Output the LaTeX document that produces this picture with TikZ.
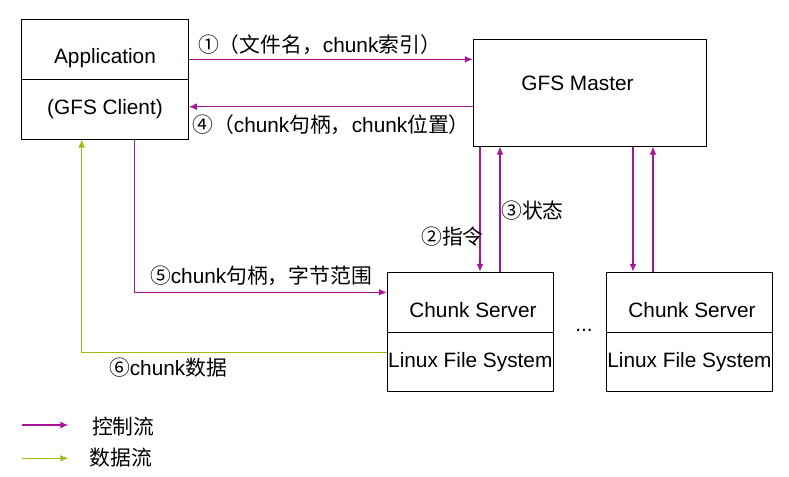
\documentclass[tikz,border=0pt]{standalone}
\usepackage{fontspec}
\setmainfont{Liberation Sans}
\newfontfamily\cjk{Noto Sans CJK SC}
\newcommand{\zh}[1]{{\cjk #1}}
\usetikzlibrary{arrows.meta,calc,positioning}
\definecolor{ctrlpurple}{RGB}{170,20,150}
\definecolor{datagreen}{RGB}{150,190,20}

\begin{document}
\begin{tikzpicture}[x=0.5pt,y=-0.5pt,
    every node/.style={font=\fontsize{10.4}{12}\selectfont},
    box/.style={draw,line width=0.5pt,rectangle,inner sep=0pt},
    ctrl/.style={ctrlpurple,line width=0.6pt,-{Latex[length=4pt,width=3.4pt]}},
    data/.style={datagreen,line width=0.6pt,-{Latex[length=4pt,width=3.4pt]}}]

    \useasboundingbox (0,0) rectangle (789,477);

    % =====================
    % Client box
    % =====================
    \node[box,minimum width=83.3pt,minimum height=30pt,
          label={[yshift=-4.5pt]center:Application}] (app) at (105,49.3) {};
    \node[box,minimum width=83.3pt,minimum height=29.85pt] (client) at (105,109.2) {(GFS Client)};

    % =====================
    % Master box
    % =====================
    \node[box,minimum width=116.7pt,minimum height=53.35pt,
          label={[xshift=-6.25pt,yshift=4.7pt]center:GFS Master}] (master) at (590,92.7) {};

    % =====================
    % Chunk server boxes
    % =====================
    \node[box,minimum width=83pt,minimum height=30pt,
          label={[xshift=1.35pt,yshift=-3.85pt]center:Chunk Server}] (cs1) at (470.3,302.3) {};
    \node[box,minimum width=83pt,minimum height=29.35pt] (fs1) at (470.3,361.7) {Linux File System};

    \node[box,minimum width=82.8pt,minimum height=30pt,
          label={[xshift=1.25pt,yshift=-3.85pt]center:Chunk Server}] (cs2) at (689.5,302.3) {};
    \node[box,minimum width=82.8pt,minimum height=29.35pt] (fs2) at (689.5,361.7) {Linux File System};

    \node[anchor=base] (dots) at (584,331) {...};

    % =====================
    % Arrows
    % =====================
    \draw[ctrl] ([yshift=-5pt]app.east) -- ([yshift=-5pt]app.east -| master.west);
    \draw[ctrl] ([yshift=1.25pt]client.east -| master.west) -- ([yshift=1.25pt]client.east);
    \draw[ctrl] ([xshift=4.85pt]cs1.north |- master.south) -- ([xshift=4.85pt]cs1.north);
    \draw[ctrl] ([xshift=14.85pt]cs1.north) -- ([xshift=14.85pt]cs1.north |- master.south);
    \draw[ctrl] ([xshift=-28.25pt]cs2.north |- master.south) -- ([xshift=-28.25pt]cs2.north);
    \draw[ctrl] ([xshift=-18.25pt]cs2.north) -- ([xshift=-18.25pt]cs2.north |- master.south);
    \draw[ctrl] ([xshift=14.65pt]client.south) |- ([yshift=5pt]cs1.west);
    \draw[data] ([yshift=4.7pt]fs1.west) -| ([xshift=-11.65pt]client.south);

    % =====================
    % Labels
    % =====================
    \node (l1) at (319.5,45) {\zh{①（文件名，}chunk\zh{索引）}};
    \node (l4) at (331,125) {\zh{④（}chunk\zh{句柄，}chunk\zh{位置）}};
    \node (l2) at (452.5,237) {\zh{②指令}};
    \node (l3) at (532.5,211) {\zh{③状态}};
    \node (l5) at (261,276) {\zh{⑤}chunk\zh{句柄，字节范围}};
    \node (l6) at (168,368) {\zh{⑥}chunk\zh{数据}};

    % =====================
    % Legend
    % =====================
    \coordinate (kc1) at (21.7,425);
    \coordinate (kc2) at (68.3,425);
    \coordinate (kd1) at (21.7,458.3);
    \coordinate (kd2) at (68.3,458.3);
    \draw[ctrl] (kc1) -- (kc2);
    \draw[data] (kd1) -- (kd2);
    \node (kctrl) at (123.3,426.7) {\zh{控制流}};
    \node (kdata) at (121.2,458) {\zh{数据流}};

\end{tikzpicture}
\end{document}
